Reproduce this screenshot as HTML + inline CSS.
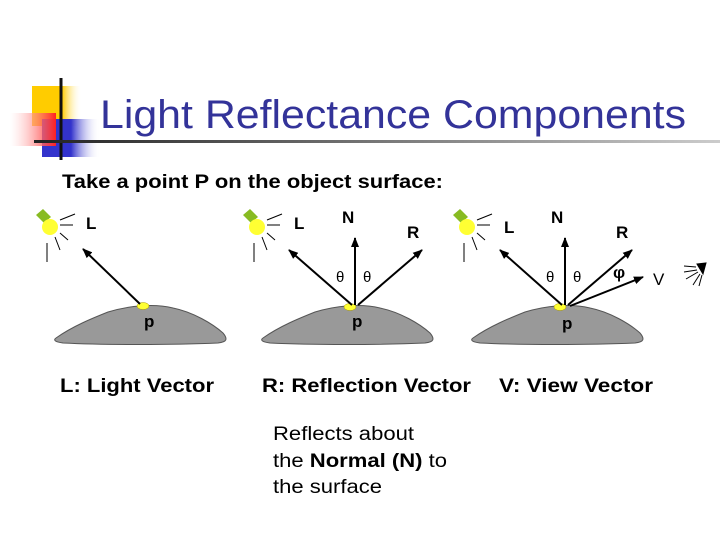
<!DOCTYPE html>
<html><head><meta charset="utf-8"><style>
html,body{margin:0;padding:0;background:#fff;}
svg{display:block;}
text{font-family:"Liberation Sans",Arial,sans-serif;}
</style></head><body>
<svg width="720" height="540" viewBox="0 0 720 540" xmlns="http://www.w3.org/2000/svg">
<defs>
<linearGradient id="gy" x1="0" x2="1"><stop offset="0" stop-color="#ffcc00"/><stop offset="0.6" stop-color="#ffcc00"/><stop offset="1" stop-color="#fff" stop-opacity="0"/></linearGradient>
<linearGradient id="gb" x1="0" x2="1"><stop offset="0" stop-color="#3333cc"/><stop offset="0.5" stop-color="#3333cc"/><stop offset="1" stop-color="#fff" stop-opacity="0"/></linearGradient>
<linearGradient id="gr" x1="1" x2="0"><stop offset="0" stop-color="#ff2020"/><stop offset="1" stop-color="#fff" stop-opacity="0.3"/></linearGradient>
<linearGradient id="gl" x1="0" x2="1"><stop offset="0" stop-color="#222"/><stop offset="1" stop-color="#ccc"/></linearGradient>
<marker id="ah" markerWidth="10" markerHeight="8" refX="9" refY="4" orient="auto" markerUnits="userSpaceOnUse"><path d="M0,0 L10,4 L0,8 z" fill="#000"/></marker>
<g id="light">
<path d="M-12,-10 L-5,-16 L3,-8 L-4,-2 z" fill="#88bb22"/>
<circle cx="2" cy="2" r="8" fill="#ffff33"/>
<g stroke="#000" stroke-width="1">
<line x1="12" y1="-5" x2="27" y2="-11"/>
<line x1="12" y1="0" x2="25" y2="0"/>
<line x1="12" y1="8" x2="20" y2="15"/>
<line x1="7" y1="12" x2="12" y2="25"/>
<line x1="-1" y1="18" x2="-1" y2="37"/>
</g></g>
<path id="blob" d="M-87,32 C-70,20 -50,12 -35,6 C-15,0 10,-3 30,2 C50,6 70,18 80,27 C85,33 84,36 75,37 C30,39 -40,39 -80,37 C-88,36 -90,34 -87,32 z" fill="#999" stroke="#555" stroke-width="1"/>
</defs>

<rect x="32" y="86" width="50" height="40" fill="url(#gy)"/>
<rect x="42" y="119" width="58" height="38" fill="url(#gb)"/>
<rect x="10" y="113" width="46" height="33" fill="url(#gr)"/>
<line x1="61" y1="78" x2="61" y2="160" stroke="#111" stroke-width="3"/>
<rect x="34" y="140" width="686" height="3" fill="url(#gl)"/>
<text x="100" y="128" font-size="40" fill="#333399" textLength="586" lengthAdjust="spacingAndGlyphs">Light Reflectance Components</text>
<text x="62" y="188" font-size="19" font-weight="bold" fill="#000" textLength="381" lengthAdjust="spacingAndGlyphs">Take a point P on the object surface:</text>

<g transform="translate(-417,0)">
<use href="#light" x="465" y="225"/>
<use href="#blob" x="560" y="306"/>
</g>
<ellipse cx="143" cy="306" rx="6" ry="3.5" fill="#ffff33" stroke="#aa9900" stroke-width="0.5"/>
<line x1="140" y1="304" x2="83" y2="249" stroke="#000" stroke-width="2" marker-end="url(#ah)"/>
<text x="86" y="229" font-size="17" font-weight="bold">L</text>
<text x="144" y="327" font-size="17" font-weight="bold">p</text>

<use href="#light" x="255" y="225"/>
<use href="#blob" x="350" y="306"/>
<ellipse cx="350" cy="307" rx="6" ry="3.5" fill="#ffff33" stroke="#aa9900" stroke-width="0.5"/>
<line x1="352" y1="305" x2="289" y2="250" stroke="#000" stroke-width="2" marker-end="url(#ah)"/>
<line x1="355" y1="305" x2="355" y2="238" stroke="#000" stroke-width="2" marker-end="url(#ah)"/>
<line x1="358" y1="305" x2="422" y2="250" stroke="#000" stroke-width="2" marker-end="url(#ah)"/>
<text x="294" y="229" font-size="17" font-weight="bold">L</text>
<text x="342" y="223" font-size="17" font-weight="bold">N</text>
<text x="407" y="238" font-size="17" font-weight="bold">R</text>
<text x="336" y="282" font-size="15">θ</text>
<text x="363" y="282" font-size="15">θ</text>
<text x="352" y="327" font-size="17" font-weight="bold">p</text>

<use href="#light" x="465" y="225"/>
<use href="#blob" x="560" y="306"/>
<ellipse cx="560" cy="307" rx="6" ry="3.5" fill="#ffff33" stroke="#aa9900" stroke-width="0.5"/>
<line x1="562" y1="305" x2="500" y2="250" stroke="#000" stroke-width="2" marker-end="url(#ah)"/>
<line x1="565" y1="305" x2="565" y2="238" stroke="#000" stroke-width="2" marker-end="url(#ah)"/>
<line x1="568" y1="305" x2="632" y2="250" stroke="#000" stroke-width="2" marker-end="url(#ah)"/>
<line x1="570" y1="306" x2="643" y2="277" stroke="#000" stroke-width="2" marker-end="url(#ah)"/>
<text x="504" y="233" font-size="17" font-weight="bold">L</text>
<text x="551" y="223" font-size="17" font-weight="bold">N</text>
<text x="616" y="238" font-size="17" font-weight="bold">R</text>
<text x="546" y="282" font-size="15">θ</text>
<text x="573" y="282" font-size="15">θ</text>
<text x="613" y="278" font-size="17" font-weight="bold">φ</text>
<text x="653" y="285" font-size="17">V</text>
<text x="562" y="329" font-size="17" font-weight="bold">p</text>
<g stroke="#000" stroke-width="1" fill="none">
<path d="M697,264 L706,263 L703,274 z" fill="#000"/>
<line x1="696" y1="267" x2="684" y2="266"/>
<line x1="697" y1="270" x2="684" y2="272"/>
<line x1="698" y1="272" x2="686" y2="279"/>
<line x1="700" y1="274" x2="693" y2="285"/>
<line x1="702" y1="275" x2="699" y2="286"/>
</g>

<text x="60" y="392" font-size="19" font-weight="bold" textLength="154" lengthAdjust="spacingAndGlyphs">L: Light Vector</text>
<text x="262" y="392" font-size="19" font-weight="bold" textLength="209" lengthAdjust="spacingAndGlyphs">R: Reflection Vector</text>
<text x="499" y="392" font-size="19" font-weight="bold" textLength="154" lengthAdjust="spacingAndGlyphs">V: View Vector</text>
<text x="273" y="440" font-size="19" textLength="141" lengthAdjust="spacingAndGlyphs">Reflects about</text>
<text x="273" y="467" font-size="19" textLength="174" lengthAdjust="spacingAndGlyphs">the <tspan font-weight="bold">Normal (N)</tspan> to</text>
<text x="273" y="493" font-size="19" textLength="109" lengthAdjust="spacingAndGlyphs">the surface</text>
</svg>
</body></html>
